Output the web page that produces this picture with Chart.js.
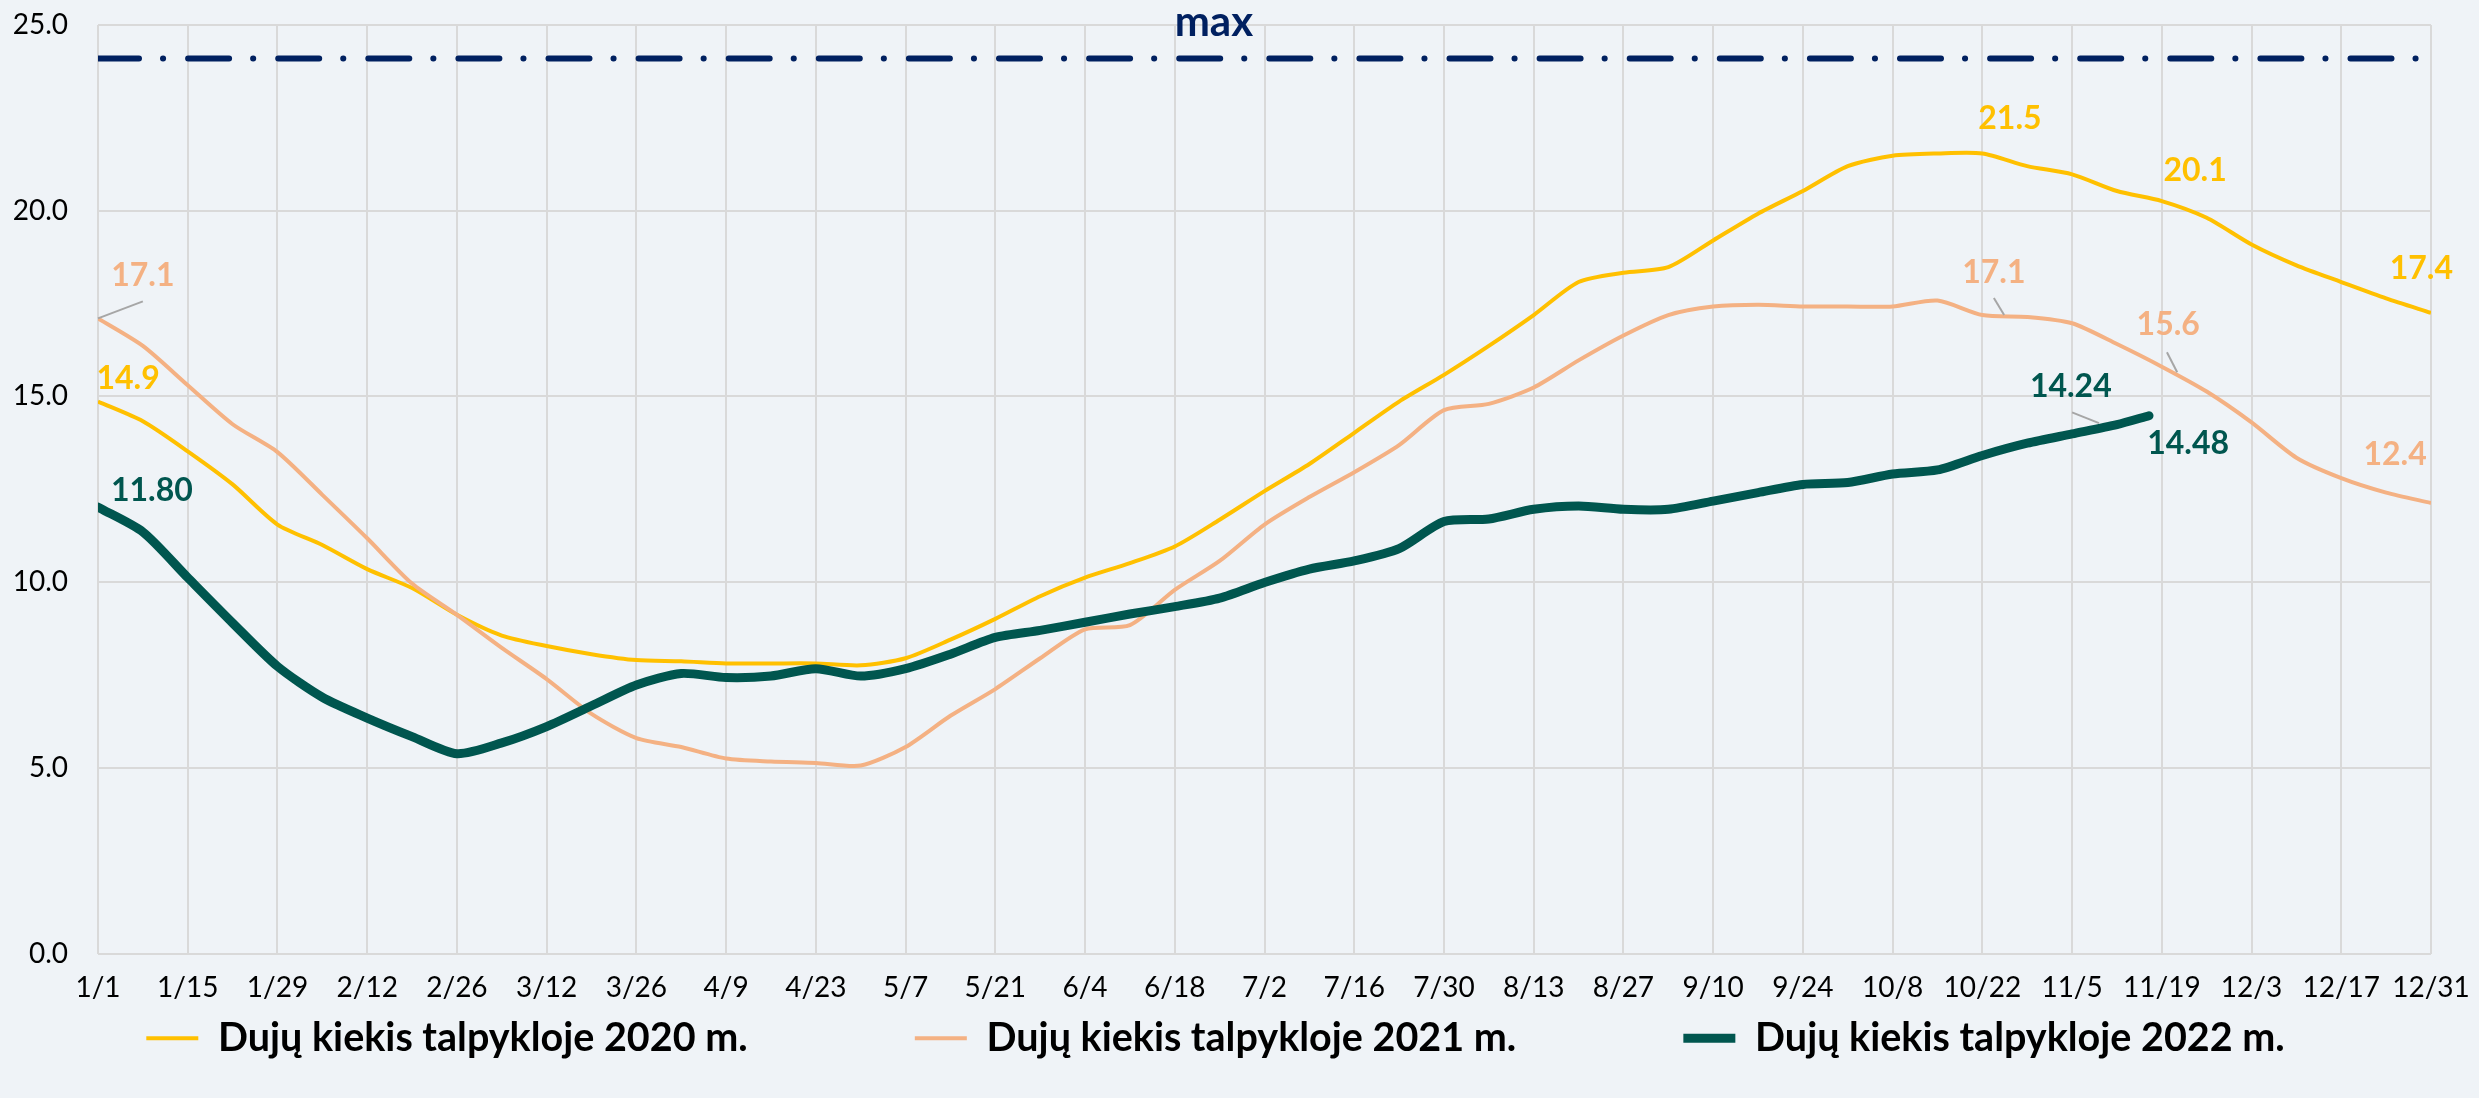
<!DOCTYPE html>
<html>
<head>
<meta charset="utf-8">
<script src="https://cdn.jsdelivr.net/npm/chart.js@4.4.1/dist/chart.umd.min.js"></script>
<style>
  html, body { margin: 0; padding: 0; background: #eff3f7; }
  #wrap { width: 2479px; height: 1098px; }
</style>
</head>
<body>
<div id="wrap"><canvas id="storageChart" width="2479" height="1098"></canvas></div>
<script>
// day of year (0 = 1/1), weekly readings
const days = [0, 7, 14, 21, 28, 35, 42, 49, 56, 63, 70, 77, 84, 91, 98, 105, 112, 119, 126, 133,
  140, 147, 154, 161, 168, 175, 182, 189, 196, 203, 210, 217, 224, 231, 238, 245, 252, 259, 266,
  273, 280, 287, 294, 301, 308, 315, 322, 329, 336, 343, 350, 357, 364];
const days2022 = days.slice(0, 46).concat([320]);

const tickLabels = ['1/1', '1/15', '1/29', '2/12', '2/26', '3/12', '3/26', '4/9', '4/23', '5/7',
  '5/21', '6/4', '6/18', '7/2', '7/16', '7/30', '8/13', '8/27', '9/10', '9/24', '10/8', '10/22',
  '11/5', '11/19', '12/3', '12/17', '12/31'];

const gas2020 = [14.86, 14.33, 13.52, 12.63, 11.55, 11.00, 10.35, 9.84, 9.12, 8.56, 8.28, 8.06, 7.90,
  7.87, 7.81, 7.81, 7.81, 7.76, 7.95, 8.45, 9.01, 9.62, 10.12, 10.51, 10.96, 11.68, 12.45, 13.18,
  14.02, 14.86, 15.58, 16.36, 17.19, 18.08, 18.33, 18.48, 19.20, 19.92, 20.53, 21.20, 21.48, 21.54,
  21.54, 21.20, 20.98, 20.53, 20.26, 19.81, 19.09, 18.53, 18.08, 17.64, 17.25];

const gas2021 = [17.10, 16.36, 15.30, 14.25, 13.50, 12.35, 11.18, 9.96, 9.12, 8.23, 7.39, 6.45, 5.80,
  5.56, 5.25, 5.17, 5.13, 5.06, 5.56, 6.40, 7.12, 7.95, 8.73, 8.84, 9.79, 10.57, 11.55, 12.29, 12.96,
  13.69, 14.63, 14.80, 15.24, 15.97, 16.64, 17.19, 17.42, 17.47, 17.42, 17.42, 17.42, 17.58, 17.19,
  17.14, 16.97, 16.41, 15.80, 15.13, 14.30, 13.35, 12.80, 12.41, 12.13];

const gas2022 = [12.02, 11.35, 10.12, 8.90, 7.73, 6.90, 6.34, 5.84, 5.38, 5.67, 6.11, 6.67, 7.23,
  7.54, 7.43, 7.47, 7.67, 7.47, 7.67, 8.06, 8.51, 8.70, 8.92, 9.14, 9.34, 9.57, 9.99, 10.35, 10.57,
  10.90, 11.63, 11.70, 11.96, 12.05, 11.96, 11.96, 12.18, 12.41, 12.63, 12.68, 12.91, 13.02, 13.41,
  13.74, 13.99, 14.24, 14.48];

const maxLevel = 24.1;

const seriesNames = ['Dujų kiekis talpykloje 2020 m.', 'Dujų kiekis talpykloje 2021 m.', 'Dujų kiekis talpykloje 2022 m.'];

// value labels written on the chart
const labels2020 = ['14.9', '21.5', '20.1', '17.4'];
const labels2021 = ['17.1', '17.1', '15.6', '12.4'];
const labels2022 = ['11.80', '14.24', '14.48'];
const maxLabel = 'max';

// where those labels sit, in (day, value) units
const spots2020 = [[4.7, 15.49], [298.3, 22.49], [327.2, 21.09], [362.5, 18.45]];
const spots2021 = [[7.0, 18.24], [295.8, 18.32], [323.0, 16.92], [358.4, 13.42]];
const spots2022 = [[8.4, 12.47], [307.8, 15.27], [326.1, 13.74]];
const maxSpot = [174.1, 25.08];
const leaders = [
  [[0, 17.1], [7.0, 17.56]],
  [[295.8, 17.65], [297.4, 17.19]],
  [[322.8, 16.19], [324.4, 15.65]],
  [[308.0, 14.57], [312.2, 14.28]]
];

const YELLOW = '#ffc000';
const PEACH = '#f4b183';
const TEAL = '#00564f';
const NAVY = '#002060';
const FONT = 'Lato, "Open Sans", sans-serif';

const pts = (xs, ys) => xs.map((d, i) => ({ x: d, y: ys[i] }));

const background = {
  id: 'background',
  beforeDraw(chart) {
    const { ctx } = chart;
    ctx.save();
    ctx.fillStyle = '#eff3f7';
    ctx.fillRect(0, 0, chart.width, chart.height);
    ctx.restore();
  }
};

const valueLabels = {
  id: 'valueLabels',
  afterDatasetsDraw(chart) {
    const { ctx, scales: { x, y } } = chart;
    ctx.save();
    ctx.strokeStyle = '#a6a6a6';
    ctx.lineWidth = 2;
    leaders.forEach(([a, b]) => {
      ctx.beginPath();
      ctx.moveTo(x.getPixelForValue(a[0]), y.getPixelForValue(a[1]));
      ctx.lineTo(x.getPixelForValue(b[0]), y.getPixelForValue(b[1]));
      ctx.stroke();
    });
    ctx.textAlign = 'center';
    ctx.textBaseline = 'middle';
    ctx.font = 'bold 32px ' + FONT;
    const put = (texts, spots, color) => {
      ctx.fillStyle = color;
      texts.forEach((t, i) => {
        ctx.fillText(t, x.getPixelForValue(spots[i][0]), y.getPixelForValue(spots[i][1]));
      });
    };
    put(labels2020, spots2020, YELLOW);
    put(labels2021, spots2021, PEACH);
    put(labels2022, spots2022, TEAL);
    ctx.font = 'bold 42px ' + FONT;
    ctx.fillStyle = NAVY;
    ctx.fillText(maxLabel, x.getPixelForValue(maxSpot[0]), y.getPixelForValue(maxSpot[1]));
    ctx.restore();
  }
};

const chart = new Chart(document.getElementById('storageChart'), {
  type: 'line',
  data: {
    datasets: [
      {
        label: seriesNames[0],
        data: pts(days, gas2020),
        borderColor: YELLOW,
        backgroundColor: YELLOW,
        borderWidth: 4,
        tension: 0.25,
        pointRadius: 0,
        order: 2
      },
      {
        label: seriesNames[1],
        data: pts(days, gas2021),
        borderColor: PEACH,
        backgroundColor: PEACH,
        borderWidth: 4,
        tension: 0.25,
        pointRadius: 0,
        order: 1
      },
      {
        label: seriesNames[2],
        data: pts(days2022, gas2022),
        borderColor: TEAL,
        backgroundColor: TEAL,
        borderWidth: 9,
        borderCapStyle: 'round',
        borderJoinStyle: 'round',
        tension: 0.25,
        pointRadius: 0,
        order: 0
      },
      {
        label: 'max',
        data: [{ x: 0, y: maxLevel }, { x: 364, y: maxLevel }],
        borderColor: NAVY,
        borderWidth: 6,
        borderDash: [41, 24, 0.1, 25],
        borderCapStyle: 'round',
        pointRadius: 0,
        order: 3
      }
    ]
  },
  options: {
    responsive: false,
    animation: false,
    layout: { padding: { left: 0, right: 48, top: 25, bottom: 30 } },
    scales: {
      x: {
        type: 'linear',
        min: 0,
        max: 364,
        afterFit(scale) { scale.height = 61; },
        afterBuildTicks(scale) {
          scale.ticks = tickLabels.map((t, i) => ({ value: i * 14 }));
        },
        ticks: {
          autoSkip: false,
          maxRotation: 0,
          padding: 0,
          color: '#000',
          font: { family: FONT, size: 28 },
          callback: (v, i) => tickLabels[i]
        },
        grid: { color: '#d9d9d9', lineWidth: 2, drawTicks: true, tickLength: 18, tickColor: 'rgba(0,0,0,0)' },
        border: { display: false }
      },
      y: {
        min: 0,
        max: 25,
        afterFit(scale) { scale.width = 98; },
        ticks: {
          stepSize: 5,
          padding: 2,
          color: '#000',
          font: { family: FONT, size: 28 },
          callback: v => v.toFixed(1)
        },
        grid: { color: '#d9d9d9', lineWidth: 2, drawTicks: true, tickLength: 28, tickColor: 'rgba(0,0,0,0)' },
        border: { display: false }
      }
    },
    plugins: {
      tooltip: { enabled: false },
      legend: {
        position: 'bottom',
        labels: {
          usePointStyle: true,
          pointStyle: 'line',
          pointStyleWidth: 52,
          padding: 4,
          color: '#000',
          font: { family: FONT, size: 39.5, weight: 'bold' },
          generateLabels(ch) {
            const items = Chart.defaults.plugins.legend.labels.generateLabels(ch);
            return items
              .filter(it => it.datasetIndex < 3)
              .sort((a, b) => a.datasetIndex - b.datasetIndex)
              .map((it, k) => {
                if (k < 2) it.text = it.text + ' '.repeat(17);
                return it;
              });
          }
        }
      }
    }
  },
  plugins: [background, valueLabels]
});
</script>
</body>
</html>
